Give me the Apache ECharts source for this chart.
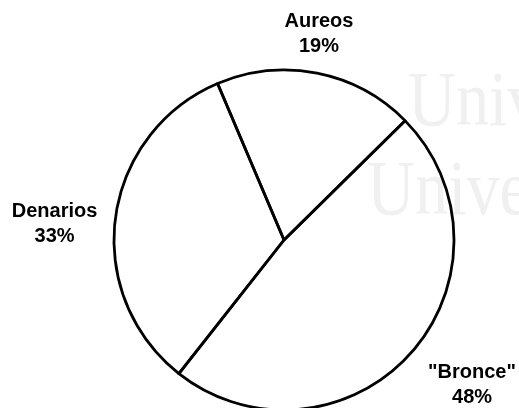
<!DOCTYPE html>
<html>
<head>
<meta charset="utf-8">
<script src="https://cdn.jsdelivr.net/npm/echarts@6/dist/echarts.min.js"></script>
<style>
html,body{margin:0;padding:0;background:#fff;}
#c{width:519px;height:408px;}
</style>
</head>
<body>
<div id="c"></div>
<script>
var categories = ['Aureos', '"Bronce"', 'Denarios'];
var values = [19, 48, 33];
var labelLineLengths = [41, 46, 10];
var labelDistances = [-6, 27, 51];
var labelShiftY = [1, 1, 8];

var data = categories.map(function (name, i) {
  return {
    name: name,
    value: values[i],
    label: { distanceToLabelLine: labelDistances[i] },
    labelLine: { length: labelLineLengths[i], length2: 0 }
  };
});

var chart = echarts.init(document.getElementById('c'), null, { renderer: 'canvas' });
chart.setOption({
  backgroundColor: '#ffffff',
  animation: false,
  graphic: [
    { type: 'text', x: 408, y: 66, scaleX: 0.85, z: 0, silent: true,
      style: { text: 'Univ', fill: '#f0f0f0', font: '78px "Liberation Serif"', textVerticalAlign: 'top' } },
    { type: 'text', x: 367, y: 155, scaleX: 0.85, z: 0, silent: true,
      style: { text: 'Unive', fill: '#f0f0f0', font: '78px "Liberation Serif"', textVerticalAlign: 'top' } }
  ],
  series: [{
    type: 'pie',
    center: [284, 240],
    radius: 170,
    startAngle: 113,
    clockwise: true,
    avoidLabelOverlap: false,
    z: 5,
    itemStyle: { color: 'rgba(255,255,255,0)', borderColor: '#000000', borderWidth: 2.8 },
    label: {
      show: true,
      position: 'outside',
      formatter: '{b}\n{c}%',
      fontFamily: '"Liberation Sans", Arial, sans-serif',
      fontWeight: 'bold',
      fontSize: 20,
      lineHeight: 25,
      color: '#000000',
      width: 110,
      overflow: 'none'
    },
    labelLine: { show: false },
    labelLayout: function (p) { return { align: 'center', verticalAlign: 'middle', dy: labelShiftY[p.dataIndex] }; },
    emphasis: { disabled: true },
    data: data
  }]
});
</script>
</body>
</html>
